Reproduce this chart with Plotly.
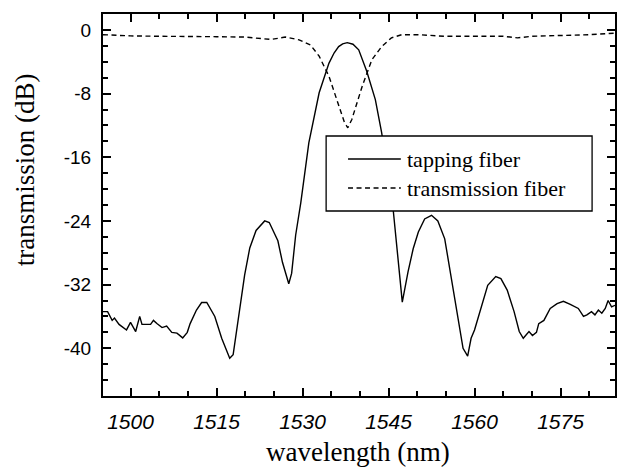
import plotly.graph_objects as go

# tapping fiber (solid)
tap_wl = [1495.2, 1496.0, 1496.8, 1497.2, 1498.0, 1499.3, 1500.0, 1500.9, 1501.6, 1502.0,
          1503.5, 1504.0, 1504.6, 1505.5, 1506.3, 1507.2, 1508.1, 1509.1, 1509.9, 1510.4,
          1511.5, 1512.4, 1513.3, 1514.7, 1515.9, 1517.3, 1517.9, 1518.9, 1519.9, 1520.8,
          1521.9, 1523.4, 1524.2, 1525.7, 1526.5, 1527.6, 1528.1, 1528.8, 1529.7, 1531.1,
          1532.9, 1534.6, 1535.5, 1536.3, 1537.0, 1537.8, 1538.8, 1539.8, 1541.2, 1542.7,
          1543.8, 1545.8, 1547.4, 1548.4, 1549.3, 1550.2, 1551.3, 1552.5, 1553.6, 1554.8,
          1555.9, 1557.1, 1558.0, 1558.8, 1559.4, 1560.0, 1561.1, 1562.3, 1563.7, 1564.6,
          1565.7, 1566.9, 1567.8, 1568.5, 1569.5, 1570.1, 1570.8, 1571.2, 1572.1, 1573.2,
          1574.4, 1575.5, 1576.7, 1578.1, 1579.0, 1579.6, 1580.4, 1581.0, 1581.6, 1582.2,
          1582.8, 1583.3, 1583.9, 1584.5]
tap_db = [-35.4, -35.4, -36.5, -36.2, -37.0, -37.7, -36.75, -37.9, -36.0, -37.0,
          -37.0, -36.5, -36.9, -37.4, -37.2, -38.0, -38.1, -38.7, -38.0, -36.9,
          -35.2, -34.25, -34.25, -36.0, -38.75, -41.25, -40.8, -35.8, -30.8, -27.4,
          -25.2, -24.0, -24.2, -26.5, -29.2, -31.9, -30.6, -25.8, -21.7, -14.2,
          -7.9, -4.2, -2.9, -2.1, -1.75, -1.6, -1.8, -2.5, -5.2, -8.75,
          -12.9, -22.5, -34.2, -30.4, -27.5, -25.4, -23.75, -23.3, -24.0, -26.25,
          -30.8, -35.8, -40.0, -41.0, -38.75, -37.7, -35.0, -32.1, -31.0, -31.25,
          -32.7, -35.4, -37.9, -38.75, -37.9, -38.4, -38.0, -36.9, -36.5, -35.0,
          -34.4, -34.1, -34.5, -35.0, -36.0, -35.8, -35.4, -35.8, -35.2, -35.6,
          -35.0, -34.0, -34.8, -34.6]

# transmission fiber (dashed)
tr_wl = [1495.2, 1500.0, 1505.0, 1510.0, 1515.0, 1520.0, 1522.0, 1524.5, 1527.0, 1529.4,
         1531.4, 1532.9, 1534.6, 1536.3, 1537.3, 1537.9, 1538.6, 1540.4, 1542.1, 1543.8,
         1545.5, 1547.3, 1550.2, 1554.8, 1560.6, 1565.0, 1567.5, 1570.0, 1575.0, 1580.0,
         1584.5]
tr_db = [-0.6, -0.75, -0.8, -0.8, -0.85, -0.9, -1.0, -1.2, -0.9, -1.25,
         -1.9, -3.3, -5.8, -9.6, -11.6, -12.3, -11.25, -7.1, -3.75, -2.1,
         -1.0, -0.6, -0.6, -0.8, -0.75, -0.8, -1.0, -0.8, -0.7, -0.6,
         -0.4]

x_ticks = [1500, 1515, 1530, 1545, 1560, 1575]
y_ticks = [0, -8, -16, -24, -32, -40]
series_names = ["tapping fiber", "transmission fiber"]

SANS = "Arial, Liberation Sans, sans-serif"
SERIF = "Times New Roman, Liberation Serif, serif"
DASH = "5px,3.5px"

fig = go.Figure()
fig.add_trace(go.Scatter(x=tap_wl, y=tap_db, mode="lines", name=series_names[0],
                         line=dict(color="black", width=1.4), showlegend=False))
fig.add_trace(go.Scatter(x=tr_wl, y=tr_db, mode="lines", name=series_names[1],
                         line=dict(color="black", width=1.4, dash=DASH), showlegend=False))

L, R, T, B = 103, 0, 14, 75
W, H = 617, 471
pw, ph = W - L - R, H - T - B

def px(x):
    return (x - L) / pw

def py(y):
    return (H - B - y) / ph

axis_common = dict(showline=True, linecolor="black", linewidth=2, mirror="ticks",
                   ticks="inside", tickcolor="black", tickwidth=2, ticklen=8,
                   showgrid=False, zeroline=False)

fig.update_xaxes(range=[1495.2, 1584.5], tickvals=x_ticks, ticktext=[str(v) for v in x_ticks],
                 tickfont=dict(family=SANS, size=21, color="black", style="italic"),
                 minor=dict(dtick=5, tick0=1500, ticks="inside", ticklen=5, tickwidth=1.5,
                            tickcolor="black"),
                 ticklabelstandoff=6, **axis_common)
fig.update_yaxes(range=[-46, 2], tickvals=y_ticks, ticktext=[str(v) for v in y_ticks],
                 tickfont=dict(family=SANS, size=19, color="black"),
                 minor=dict(dtick=2, tick0=0, ticks="inside", ticklen=5, tickwidth=1.5,
                            tickcolor="black"),
                 ticklabelstandoff=6, **axis_common)

# legend box (manual, to match original box size)
shapes = [
    dict(type="rect", xref="paper", yref="paper", x0=px(327), x1=px(594), y0=py(211), y1=py(136),
         line=dict(color="black", width=1.3), fillcolor="white", layer="above"),
    dict(type="line", xref="paper", yref="paper", x0=px(349), x1=px(402), y0=py(159), y1=py(159),
         line=dict(color="black", width=1.4), layer="above"),
    dict(type="line", xref="paper", yref="paper", x0=px(349), x1=px(402), y0=py(188), y1=py(188),
         line=dict(color="black", width=1.4, dash=DASH), layer="above"),
]
annotations = [
    dict(text=series_names[0], xref="paper", yref="paper", x=px(406), y=py(159),
         xanchor="left", yanchor="middle", showarrow=False,
         font=dict(family=SERIF, size=22, color="black")),
    dict(text=series_names[1], xref="paper", yref="paper", x=px(406), y=py(188),
         xanchor="left", yanchor="middle", showarrow=False,
         font=dict(family=SERIF, size=22, color="black")),
    dict(text="wavelength (nm)", xref="paper", yref="paper", x=px(359), y=py(452),
         xanchor="center", yanchor="middle", showarrow=False,
         font=dict(family=SERIF, size=27, color="black")),
    dict(text="transmission (dB)", xref="paper", yref="paper", x=px(25), y=py(170),
         xanchor="center", yanchor="middle", showarrow=False, textangle=-90,
         font=dict(family=SERIF, size=27, color="black")),
]

fig.update_layout(width=W, height=H, margin=dict(l=L, r=R, t=T, b=B),
                  paper_bgcolor="white", plot_bgcolor="white",
                  shapes=shapes, annotations=annotations, showlegend=False)

fig.write_html("out.html", config={"displayModeBar": False},
               post_script="document.body.style.margin='0';document.body.style.overflow='hidden';")
